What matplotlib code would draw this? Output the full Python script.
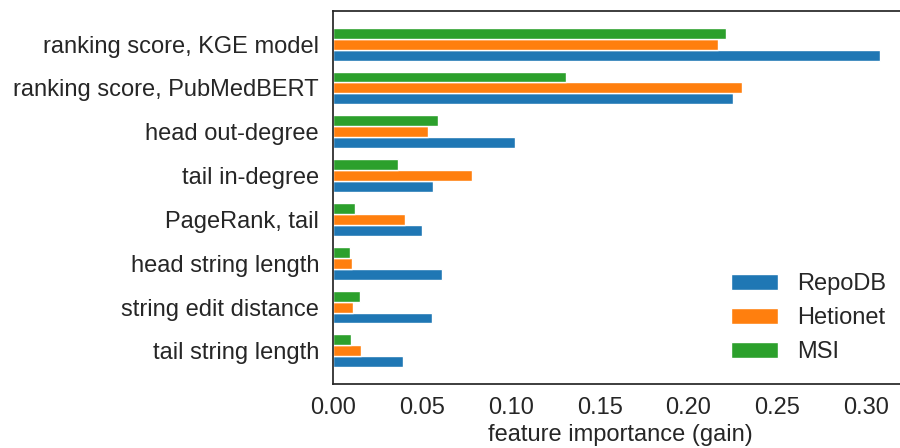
import numpy as np
import matplotlib
matplotlib.use("Agg")
import matplotlib.pyplot as plt

# ---- data ----
features = [
    "ranking score, KGE model",
    "ranking score, PubMedBERT",
    "head out-degree",
    "tail in-degree",
    "PageRank, tail",
    "head string length",
    "string edit distance",
    "tail string length",
]
repodb = [0.3076, 0.2251, 0.1023, 0.0561, 0.0502, 0.0616, 0.0555, 0.0394]
hetionet = [0.2165, 0.2302, 0.0537, 0.0782, 0.0404, 0.0108, 0.0112, 0.0155]
msi = [0.2214, 0.1311, 0.0592, 0.0365, 0.0122, 0.0093, 0.0151, 0.0102]

# ---- style ----
text_col = "#262626"
fs = 17
plt.rcParams["font.family"] = ["Liberation Sans", "DejaVu Sans"]
plt.rcParams["text.color"] = text_col
plt.rcParams["axes.labelcolor"] = text_col
plt.rcParams["xtick.color"] = text_col
plt.rcParams["ytick.color"] = text_col

fig = plt.figure(figsize=(9, 4.48), dpi=100)
# axes run past the right edge of the figure, as in the cropped original
ax = fig.add_axes([333 / 900, 63.7 / 448, 574 / 900, 373.6 / 448])

y = np.arange(len(features))[::-1]
h = 0.25
ax.barh(y - h, repodb, h, color="#1f77b4", edgecolor="white", linewidth=1, label="RepoDB")
ax.barh(y, hetionet, h, color="#ff7f0e", edgecolor="white", linewidth=1, label="Hetionet")
ax.barh(y + h, msi, h, color="#2ca02c", edgecolor="white", linewidth=1, label="MSI")

ax.set_yticks(y)
ax.set_yticklabels(features, fontsize=fs)
ax.set_xticks([0.0, 0.05, 0.10, 0.15, 0.20, 0.25, 0.30])
ax.set_xticklabels(["0.00", "0.05", "0.10", "0.15", "0.20", "0.25", "0.30"], fontsize=fs)
ax.tick_params(axis="y", length=0, pad=10)
ax.tick_params(axis="x", length=0, pad=9.5)
ax.set_xlabel("feature importance (gain)", fontsize=fs, labelpad=3.5)

for s in ax.spines.values():
    s.set_color(text_col)
    s.set_linewidth(1.25)

ax.legend(loc="lower right", fontsize=fs, frameon=False)

plt.savefig("out.png", dpi=100)
